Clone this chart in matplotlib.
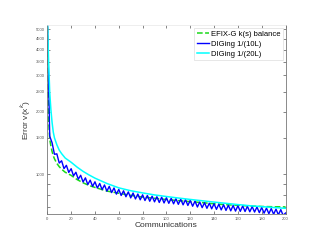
import matplotlib
matplotlib.use("Agg")
import matplotlib.pyplot as plt
import numpy as np

plt.rcParams['font.family'] = ['Liberation Sans', 'DejaVu Sans']

# smooth curves
comm = [0, 1, 2, 3, 4, 5, 6, 8, 10, 12, 15, 20, 25, 30, 35, 40, 50, 60, 70, 80,
        90, 100, 110, 120, 130, 140, 150, 160, 170, 180, 190, 200]
efix = [5600, 1900, 1480, 1370, 1290, 1230, 1190, 1130, 1090, 1060, 1025, 990,
        945, 912, 885, 866, 832, 812, 793, 778, 768, 757, 748, 740, 732, 722,
        715, 710, 705, 701, 699, 698]
dig20 = [6000, 3600, 2500, 2050, 1780, 1600, 1500, 1390, 1310, 1260, 1200, 1145,
         1085, 1035, 995, 960, 905, 862, 835, 815, 797, 783, 770, 758, 747, 736,
         726, 716, 707, 700, 693, 687]

# zig-zag curve, every 2 communications
comm10 = list(range(0, 201, 2))
dig10 = [5800, 1530, 1421, 1251, 1257, 1135, 1164, 1067, 1107, 1023,
         1066, 985, 1025, 949, 991, 920, 963, 894, 939, 876,
         922, 860, 905, 845, 890, 831, 876, 818, 861, 804,
         847, 792, 834, 781, 824, 771, 814, 762, 805, 755,
         798, 749, 792, 743, 786, 738, 781, 733, 777, 729,
         773, 726, 768, 722, 764, 718, 760, 714, 756, 709,
         750, 703, 744, 697, 737, 692, 731, 687, 727, 683,
         723, 679, 719, 675, 715, 671, 711, 668, 709, 666,
         707, 664, 705, 663, 702, 661, 700, 659, 697, 655,
         693, 651, 689, 647, 685, 643, 681, 639, 677, 635,
         652]

ytick_vals = [700, 800, 900, 1000, 1500, 2000, 2500, 3000, 3500, 4000, 4500, 5000]
ytick_labels = ['', '', '', '1000', '1500', '2000', '2500', '3000', '3500',
                '4000', '4500', '5000']
xtick_vals = list(range(0, 201, 20))

fig = plt.figure(figsize=(3.23, 2.49), dpi=100)
ax = fig.add_axes([0.1465, 0.1406, 0.7375, 0.759])

ax.plot(comm, efix, '--', color=(0.1, 0.85, 0.1), lw=1.1, label='EFIX-G k(s) balance')
ax.plot(comm10, dig10, '-', color=(0, 0, 1), lw=1.0, label='DIGing 1/(10L)')
ax.plot(comm, dig20, '-', color=(0, 1, 1), lw=1.1, label='DIGing 1/(20L)')

ax.set_yscale('log')
ax.set_xlim(0, 200)
ax.set_ylim(645, 5250)
ax.set_yticks(ytick_vals)
ax.set_yticklabels(ytick_labels)
ax.yaxis.set_minor_locator(matplotlib.ticker.NullLocator())
ax.set_xticks(xtick_vals)
ax.set_xticklabels([str(v) for v in xtick_vals])

ax.tick_params(direction='in', length=2, width=0.5, labelsize=3, colors='#555555',
               top=True, right=True, pad=2)
for s in ['left', 'bottom', 'right']:
    ax.spines[s].set_color('#777777')
    ax.spines[s].set_linewidth(0.6)
ax.spines['top'].set_color('#e8e8e8')
ax.spines['top'].set_linewidth(0.5)

ax.set_xlabel('Communications', fontsize=6, color='#333333', labelpad=1)
ax.set_ylabel('Error v(x$^k$)', fontsize=6, color='#333333', labelpad=2)

leg = ax.legend(loc='upper right', bbox_to_anchor=(283 / 323, 1 - 28 / 249),
                bbox_transform=fig.transFigure, borderaxespad=0, fontsize=5.5,
                handlelength=1.6, handletextpad=0.3, labelspacing=0.35,
                borderpad=0.3, fancybox=False, framealpha=1)
leg.get_frame().set_edgecolor('#dddddd')
leg.get_frame().set_linewidth(0.5)

fig.savefig('out.png', dpi=100)
